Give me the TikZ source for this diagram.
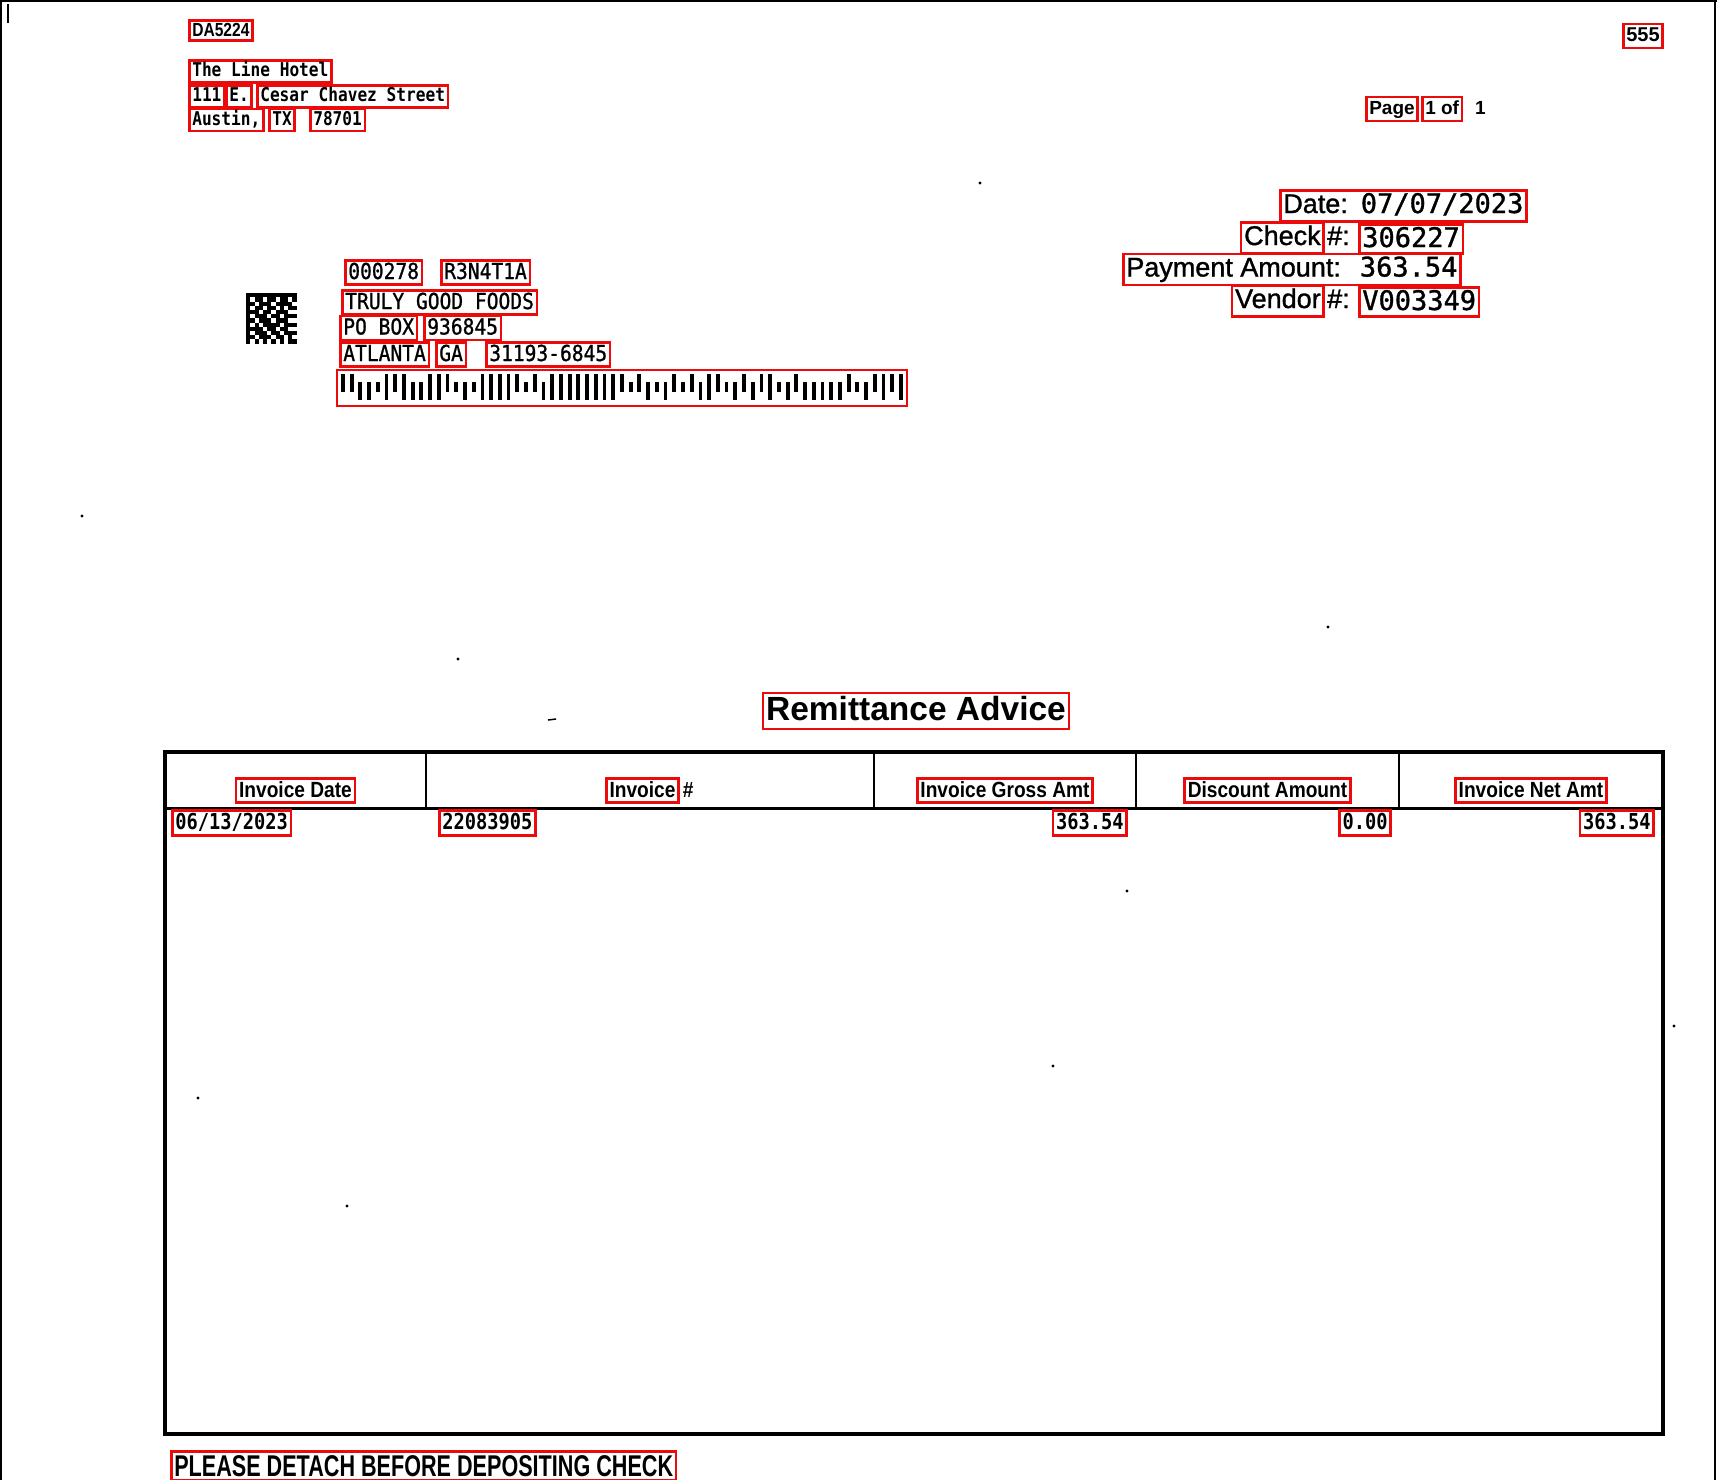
\documentclass[tikz,border=0pt]{standalone}
\usepackage{fontspec}
\usetikzlibrary{positioning}
\setmainfont{Liberation Sans}
\newfontfamily\infofont[FakeBold=1.2]{Liberation Sans}
\newfontfamily\titlefont{Liberation Sans Bold}
\newfontfamily\hdfont[FakeStretch=0.87]{Liberation Sans Bold}
\newfontfamily\tagfont[FakeStretch=0.82]{Liberation Sans Bold}
\newfontfamily\detachfont[FakeStretch=0.72]{Liberation Sans Bold}
\newfontfamily\valfont[FakeBold=1.2]{DejaVu Sans Mono}
\newfontfamily\payfont[FakeStretch=0.89,FakeBold=1]{DejaVu Sans Mono}
\newfontfamily\addrfont[FakeStretch=0.85]{DejaVu Sans Mono Bold}
\newfontfamily\rowfont[FakeStretch=0.85]{DejaVu Sans Mono Bold}
\definecolor{ocrred}{rgb}{0.93,0.04,0.04}

\tikzset{
  ocr/.style={draw=ocrred, line width=2.6pt, inner xsep=3pt, inner ysep=2.5pt, anchor=west},
  bare/.style={inner sep=0pt, anchor=west},
  tag/.style={font=\tagfont\fontsize{19}{22}\selectfont, text height=14pt, text depth=1pt},
  bold/.style={font=\titlefont\fontsize{19}{22}\selectfont, text height=15pt, text depth=4pt},
  hotel/.style={font=\addrfont\fontsize{19}{22}\selectfont, text height=14pt, text depth=3pt},
  payee/.style={font=\payfont\fontsize{22}{26}\selectfont, text height=16pt, text depth=3pt},
  info/.style={font=\infofont\fontsize{27}{32}\selectfont, text height=20pt, text depth=6pt},
  val/.style={font=\valfont\fontsize{27}{32}\selectfont, text height=20pt, text depth=4pt},
  colhead/.style={font=\hdfont\fontsize{22}{26}\selectfont, text height=16pt, text depth=3pt, anchor=center},
  cell/.style={font=\rowfont\fontsize{22}{26}\selectfont, text height=16pt, text depth=4pt},
  frame/.style={line width=3.5pt},
  divider/.style={line width=2.4pt}
}

\begin{document}
\begin{tikzpicture}[x=1pt,y=-1pt]
  \useasboundingbox (0,0) rectangle (1717,1480);
  \draw[line width=2.5pt] (0,1) -- (1717,1);
  \draw[line width=2.5pt] (1,0) -- (1,1480);
  \draw[line width=2pt] (1715,0) -- (1715,1480);
  \draw[line width=2pt] (8,4) -- (8,23);
  \foreach \p in {(980,183),(82,516),(458,659),(1328,627),(1127,891),(1674,1026),(1053,1066),(198,1098),(347,1206)}
    \fill \p circle (1.6);
  \draw[line width=1.5pt] (548,720) -- (556,719);

  \node[ocr,tag] (da) at (188,30.5) {DA5224};
  \node[ocr,hotel] (hotel) at (188,71.5) {The Line Hotel};
  \node[ocr,hotel] (stnum) at (188,96.5) {111};
  \node[ocr,hotel] (stdir) at (225,96.5) {E.};
  \node[ocr,hotel] (stname) at (256,96.5) {Cesar Chavez Street};
  \node[ocr,hotel] (city) at (188,120) {Austin,};
  \node[ocr,hotel] (state) at (268,120) {TX};
  \node[ocr,hotel] (zip) at (309,120) {78701};

  \node[ocr,bold,font=\titlefont\fontsize{20}{24}\selectfont] (corner) at (1622,36) {555};
  \node[ocr,bold] (page) at (1365,109) {Page};
  \node[ocr,bold] (pgof) at (1421,109) {1 of};
  \node[bare,bold] (pgtot) at (1475,109) {1};

  \node[ocr,info] (date) at (1279,206) {Date:\hspace{13pt}{\valfont 07/07/2023}};
  \node[ocr,info,anchor=east] (check) at (1325,238) {Check};
  \node[bare,info,right=2pt of check] (checkhash) {\#:};
  \node[ocr,val] (checknum) at (1358,239) {306227};
  \node[ocr,info] (amount) at (1122,269.5) {Payment Amount:\hspace{19pt}{\valfont 363.54}};
  \node[ocr,info,anchor=east] (vendor) at (1325,301) {Vendor};
  \node[bare,info,right=2pt of vendor] (vendorhash) {\#:};
  \node[ocr,val] (vendornum) at (1358,302) {V003349};

  \foreach \row [count=\r] in {
      {1,1,1,1,1,1,1,1,1,1,1,1},{1,0,1,1,0,1,1,0,1,1,0,1},{1,1,0,1,1,1,0,1,1,1,1,0},
      {1,0,1,1,0,1,1,0,1,0,1,1},{1,1,1,0,1,1,0,1,1,1,0,0},{1,0,1,1,1,0,1,1,0,1,1,1},
      {1,1,0,1,1,1,0,1,1,1,0,0},{1,0,1,0,1,1,1,1,0,1,1,1},{1,1,1,1,0,1,1,0,1,1,0,0},
      {1,0,1,1,1,0,1,1,0,1,1,1},{1,1,0,1,1,1,0,1,1,0,1,0},{1,0,1,0,1,0,1,0,1,0,1,1}}
    \foreach \bit [count=\c] in \row {
      \ifnum\bit=1 \fill (242+\c*4.2,289+\r*4.2) rectangle ++(4.2,4.2); \fi
    }

  \node[ocr,payee] (acct) at (344,272.5) {000278};
  \node[ocr,payee] (route) at (440,272.5) {R3N4T1A};
  \node[ocr,payee] (payname) at (341,302.5) {TRULY GOOD FOODS};
  \node[ocr,payee] (pobox) at (339,328) {PO BOX};
  \node[ocr,payee] (boxnum) at (423,328) {936845};
  \node[ocr,payee] (paycity) at (339,354.5) {ATLANTA};
  \node[ocr,payee] (paystate) at (435,354.5) {GA};
  \node[ocr,payee] (payzip) at (485,354.5) {31193-6845};
  \draw[draw=ocrred,line width=2.6pt] (337,370) rectangle (907,406);
  \foreach \b [count=\i from 0] in {1,1,2,2,0,3,1,3,2,2,3,3,1,0,2,0,3,3,3,3,
      1,0,1,2,3,3,3,3,3,3,3,3,1,0,1,2,0,2,1,0,1,2,3,1,0,2,1,2,1,3,
      0,2,1,2,2,2,2,2,1,0,2,1,3,1,3} {
    \pgfmathsetmacro\ytop{(\b==1 || \b==3) ? 374 : 382}
    \pgfmathsetmacro\ybot{(\b==2 || \b==3) ? 400 : 392}
    \fill (341+\i*8.72,\ytop) rectangle ++(3.8,\ybot-\ytop);
  }

  \node[ocr,anchor=center,font=\titlefont\fontsize{33.5}{38}\selectfont,text height=25pt,text depth=6pt] (title) at (916,711) {Remittance Advice};

  \draw[frame] (165,752) rectangle (1663,1434);
  \draw[line width=3pt] (165,808) -- (1663,808);
  \foreach \x in {426,874,1136,1399}
    \draw[divider] (\x,752) -- (\x,808);

  \node[ocr,colhead] (hdate) at (295.5,790.5) {Invoice Date};
  \node[ocr,colhead] (hinv) at (642.5,790.5) {Invoice};
  \node[bare,colhead,anchor=west,right=3pt of hinv] (hinvhash) {\#};
  \node[ocr,colhead] (hgross) at (1005,790.5) {Invoice Gross Amt};
  \node[ocr,colhead] (hdisc) at (1267.5,790.5) {Discount Amount};
  \node[ocr,colhead] (hnet) at (1531,790.5) {Invoice Net Amt};

  \node[ocr,cell] (rdate) at (171,823) {06/13/2023};
  \node[ocr,cell] (rinv) at (438,823) {22083905};
  \node[ocr,cell,anchor=east] (rgross) at (1128,823) {363.54};
  \node[ocr,cell,anchor=east] (rdisc) at (1392,823) {0.00};
  \node[ocr,cell,anchor=east] (rnet) at (1655,823) {363.54};

  \node[ocr,font=\detachfont\fontsize{30}{34}\selectfont,text height=22pt,text depth=2pt] (detach) at (170,1466) {PLEASE DETACH BEFORE DEPOSITING CHECK};
\end{tikzpicture}
\end{document}
